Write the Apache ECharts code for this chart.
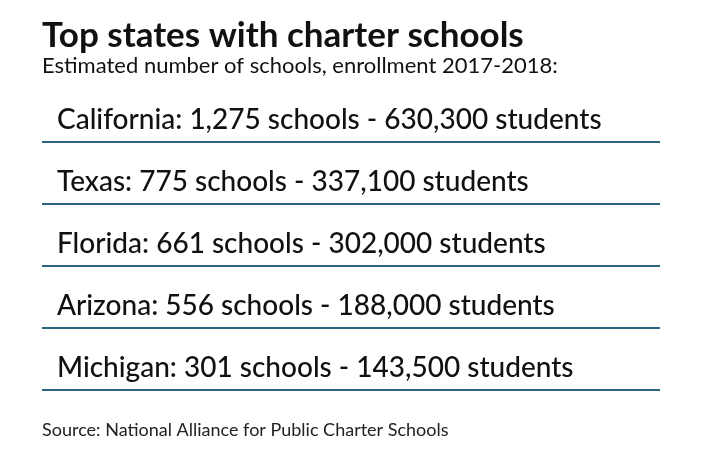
<!DOCTYPE html>
<html><head><meta charset="utf-8">
<script src="https://cdn.jsdelivr.net/npm/echarts@6/dist/echarts.min.js"></script>
<style>html,body{margin:0;padding:0;background:#fff}#c{width:712px;height:464px}</style>
</head><body><div id="c"></div>
<script>
const states = ["California","Texas","Florida","Arizona","Michigan"];
const schools = ["1,275","775","661","556","301"];
const students = ["630,300","337,100","302,000","188,000","143,500"];
const title = "Top states with charter schools";
const subtitle = "Estimated number of schools, enrollment 2017-2018:";
const source = "Source: National Alliance for Public Charter Schools";

const chart = echarts.init(document.getElementById('c'));
const F = 'Lato, "Noto Sans", sans-serif';
const els = [
  {type:'text', left:42, top:18, style:{text:title, font:'bold 35px '+F, fill:'#111'}},
  {type:'text', left:42, top:55, style:{text:subtitle, font:'22px '+F, fill:'#111'}},
  {type:'text', left:42, top:421, style:{text:source, font:'18px '+F, fill:'#222'}}
];
states.forEach((s,i)=>{
  const y = 142 + i*62;
  els.push({type:'text', left:57, top:y-36, style:{text:`${s}: ${schools[i]} schools - ${students[i]} students`, font:'500 28px '+F, fill:'#111'}});
  els.push({type:'line', shape:{x1:42,y1:y,x2:660,y2:y}, style:{stroke:'#2d6385', lineWidth:2}});
});
chart.setOption({animation:false, graphic:els});
</script></body></html>
